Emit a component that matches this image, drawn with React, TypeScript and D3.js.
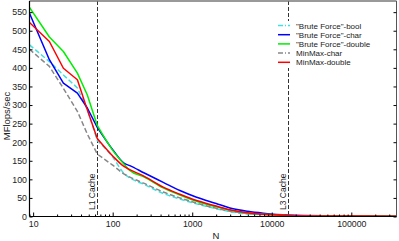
import React, {useEffect, useRef} from 'react'
import * as d3 from 'd3'

// problem sizes (N) where the runs were sampled
const sizes = [9, 16, 24, 36, 48, 64, 100, 140, 164, 250, 432, 700, 1135, 2000, 2980, 5000, 7820, 16000, 50000, 370000];

const bfBool = [462, 417, 381, 346, 288, 205, 160, 115, 104, 86, 62, 47, 34, 21, 13, 7, 5, 2.5, 1, 0.5];
const bfChar = [547, 422, 359, 332, 292, 240, 180, 143, 137, 117, 92, 70, 52, 35, 23, 14, 9, 4, 2, 1];
const bfDouble = [563, 483, 444, 386, 327, 245, 178, 140, 124, 106, 77, 58, 41, 26, 17, 9, 6, 3, 1.5, 1];
const mmChar = [450, 404, 345, 283, 222, 168, 138, 114, 106, 89, 66, 50, 36, 22, 14, 8, 5, 2.5, 1, 0.5];
const mmDouble = [522, 471, 399, 368, 287, 210, 163, 134, 126, 108, 79, 60, 43, 28, 18, 10, 6, 3, 1.5, 1];

const seriesNames = ['"Brute Force"-bool', '"Brute Force"-char', '"Brute Force"-double', 'MinMax-char', 'MinMax-double'];
const seriesValues = [bfBool, bfChar, bfDouble, mmChar, mmDouble];
const seriesColors = ['#3ee0e0', '#0000ff', '#00ee00', '#888888', '#ff0000'];
const seriesDashed = [true, false, false, true, false];

const yTicks = d3.range(0, 551, 50);
const xMajorTicks = [10, 100, 1000, 10000, 100000];
const cacheMarks = [{n: 64, label: 'L1 Cache'}, {n: 15800, label: 'L3 Cache'}];

const App = () => {
  const ref = useRef<SVGSVGElement | null>(null);

  useEffect(() => {
    const width = 399, height = 241;
    const left = 29.5, right = 396.5, top = 1, bottom = 216.5;
    const font = '"Liberation Sans", Arial, sans-serif';

    const svg = d3.select(ref.current);
    svg.selectAll('*').remove();
    svg.attr('width', width).attr('height', height);

    const x = d3.scaleLog().domain([9, 370000]).range([left, right]);
    const y = d3.scaleLinear().domain([0, 580]).range([bottom, top]);

    svg.append('rect').attr('width', width).attr('height', height).attr('fill', '#fff');

    svg.append('clipPath').attr('id', 'plot-clip')
      .append('rect').attr('x', left).attr('y', top).attr('width', right - left).attr('height', bottom - top);

    // cache size markers
    cacheMarks.forEach(m => {
      const cx = Math.round(x(m.n)) + 0.5;
      svg.append('line')
        .attr('x1', cx).attr('x2', cx).attr('y1', top).attr('y2', bottom)
        .attr('stroke', '#333').attr('stroke-width', 1).attr('stroke-dasharray', '4,2');
      svg.append('text')
        .attr('transform', `translate(${cx - 3},210) rotate(-90)`)
        .attr('font-family', font).attr('font-size', 8.5).attr('fill', '#222')
        .text(m.label);
    });

    // data lines: straight segments for the coarse small-N part, smooth after L1
    const plot = svg.append('g').attr('clip-path', 'url(#plot-clip)');
    const split = 5;
    seriesValues.forEach((vals, i) => {
      const pts = vals.map((v, j) => [x(sizes[j]), y(v)] as [number, number]);
      const head = d3.line().curve(d3.curveLinear)(pts.slice(0, split + 1));
      const tail = d3.line().curve(d3.curveMonotoneX)(pts.slice(split));
      plot.append('path')
        .attr('d', head + (tail || '').replace(/^M[^A-Za-z]*/, ''))
        .attr('fill', 'none')
        .attr('stroke', seriesColors[i])
        .attr('stroke-width', 1.5)
        .attr('stroke-linejoin', 'round')
        .attr('stroke-dasharray', seriesDashed[i] ? '5,2.5' : null);
    });

    // frame
    svg.append('line').attr('x1', left).attr('x2', right).attr('y1', top).attr('y2', top)
      .attr('stroke', '#777').attr('stroke-width', 1.5);
    svg.append('line').attr('x1', right).attr('x2', right).attr('y1', top).attr('y2', bottom)
      .attr('stroke', '#555').attr('stroke-width', 1);

    // left axis
    const yAxis = svg.append('g')
      .attr('transform', `translate(${left},0)`)
      .call(d3.axisLeft(y).tickValues(yTicks).tickSize(-3).tickPadding(2.5));
    yAxis.select('.domain').remove();
    yAxis.selectAll('text').attr('font-family', font).attr('font-size', 8.8).attr('fill', '#222');
    svg.append('line').attr('x1', left).attr('x2', left).attr('y1', top).attr('y2', bottom)
      .attr('stroke', '#000').attr('stroke-width', 1.2);

    // right ticks
    svg.append('g')
      .attr('transform', `translate(${right},0)`)
      .call(d3.axisRight(y).tickValues(yTicks).tickSize(-3).tickFormat(() => ''))
      .select('.domain').remove();

    // bottom axis with log minor ticks
    const minor = x.ticks().filter(t => !xMajorTicks.includes(t));
    svg.append('g')
      .attr('transform', `translate(0,${bottom})`)
      .call(d3.axisBottom(x).tickValues(minor).tickSize(-2).tickFormat(() => ''))
      .select('.domain').remove();
    const xAxis = svg.append('g')
      .attr('transform', `translate(0,${bottom})`)
      .call(d3.axisBottom(x).tickValues(xMajorTicks).tickSize(-4).tickPadding(4).tickFormat(d3.format('d')));
    xAxis.select('.domain').remove();
    xAxis.selectAll('text').attr('font-family', font).attr('font-size', 8.8).attr('fill', '#222');
    svg.append('line').attr('x1', left).attr('x2', right).attr('y1', bottom).attr('y2', bottom)
      .attr('stroke', '#000').attr('stroke-width', 1.2);

    // axis titles
    svg.append('text')
      .attr('transform', 'translate(9.5,116) rotate(-90)')
      .attr('text-anchor', 'middle')
      .attr('font-family', font).attr('font-size', 9.5).attr('fill', '#222')
      .text('MFlops/sec');
    svg.append('text')
      .attr('x', 216).attr('y', 239)
      .attr('text-anchor', 'middle')
      .attr('font-family', font).attr('font-size', 9.5).attr('fill', '#222')
      .text('N');

    // legend
    const legend = svg.append('g');
    legend.append('rect').attr('x', 276).attr('y', 21).attr('width', 94).attr('height', 47).attr('fill', '#fff');
    seriesNames.forEach((name, i) => {
      const ly = 25.5 + i * 9.2;
      legend.append('line')
        .attr('x1', 278).attr('x2', 290).attr('y1', ly).attr('y2', ly)
        .attr('stroke', seriesColors[i]).attr('stroke-width', 1.5)
        .attr('stroke-dasharray', seriesDashed[i] ? '5,2,1,2' : null);
      legend.append('text')
        .attr('x', 296).attr('y', ly + 3)
        .attr('font-family', font).attr('font-size', 8).attr('fill', '#222')
        .text(name);
    });
  }, []);

  return (
    <svg ref={ref} style={{position: 'absolute', left: 0, top: 0, display: 'block'}} />
  )
};

export default App;
